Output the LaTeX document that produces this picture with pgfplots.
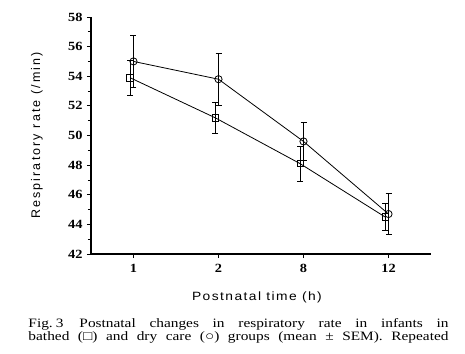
\documentclass[border=0pt]{standalone}
\usepackage{pgfplots}
\pgfplotsset{compat=1.18}
\usepackage{fontspec}
\setmainfont{Liberation Serif}
\newfontfamily\capfont[FakeStretch=1.2]{Liberation Serif}
\newfontfamily\tickfont[FakeStretch=1.15]{Liberation Serif}
\newfontfamily\xlabfont[FakeStretch=1.15,LetterSpace=12]{Liberation Sans}
\newfontfamily\ylabfont[LetterSpace=17]{Liberation Sans}
\begin{document}
\begin{tikzpicture}
\path[use as bounding box] (-91pt,-99pt) rectangle (374pt,254pt);
\begin{axis}[
  at={(0,0)}, anchor=south west,
  scale only axis,
  width=340pt, height=237pt,
  xmin=-0.5, xmax=3.5, ymin=42, ymax=58,
  axis x line*=bottom, axis y line*=left,
  axis line style={line width=1.6pt},
  xtick={0,1,2,3}, xticklabels={1,2,8,12},
  ytick={42,44,...,58},
  minor y tick num=1,
  tick align=outside,
  major tick length=4pt, minor tick length=3pt,
  every tick/.style={black, line width=0.8pt},
  /pgf/number format/assume math mode=true,
  ticklabel style={font=\tickfont\fontsize{12.5pt}{12.5pt}\selectfont\bfseries},
  yticklabel style={xshift=-1pt},
  xticklabel style={yshift=-3pt},
  xlabel={\xlabfont\fontsize{12pt}{12pt}\selectfont Postnatal time (h)},
  ylabel={\ylabfont\fontsize{12.5pt}{12.5pt}\selectfont Respiratory rate (/min)},
  every axis x label/.style={at={(axis description cs:0.488,-0.181)}, anchor=center},
  every axis y label/.style={at={(axis description cs:-0.159,0.5)}, anchor=center, rotate=90},
  clip=false,
]
\addplot[black, line width=0.8pt, mark=o, mark size=3.6pt,
  mark options={fill=white, line width=0.8pt},
  error bars/.cd, y dir=both, y explicit,
  error bar style={line width=0.7pt},
  error mark options={rotate=90, mark size=3pt, line width=0.7pt}]
  coordinates {
    (0,55.0) +- (0,1.75)
    (1,53.8) +- (0,1.75)
    (2,49.6) +- (0,1.3)
    (3,44.7) +- (0,1.4)
  };
\addplot[black, line width=0.8pt, mark=square, mark size=3.2pt,
  mark options={fill=white, line width=0.8pt},
  error bars/.cd, y dir=both, y explicit,
  error bar style={line width=0.7pt},
  error mark options={rotate=90, mark size=3pt, line width=0.7pt}]
  coordinates {
    (-0.04,53.9) +- (0,1.2)
    (0.96,51.2) +- (0,1.05)
    (1.96,48.1) +- (0,1.2)
    (2.96,44.5) +- (0,0.9)
  };
\coordinate (O) at (rel axis cs:0,0);
\end{axis}
\node[anchor=base west, inner sep=0pt, text width=420pt, align=justify,
  font=\capfont\fontsize{12.8pt}{12.6pt}\selectfont] at ([xshift=-62.7pt,yshift=-73.7pt]O)
  {\parfillskip=0pt Fig.\hspace{3pt}3\hspace{16pt}Postnatal changes in respiratory rate in infants in\linebreak bathed (□) and dry care (○) groups (mean ± SEM). Repeated\par};
\end{tikzpicture}
\end{document}
